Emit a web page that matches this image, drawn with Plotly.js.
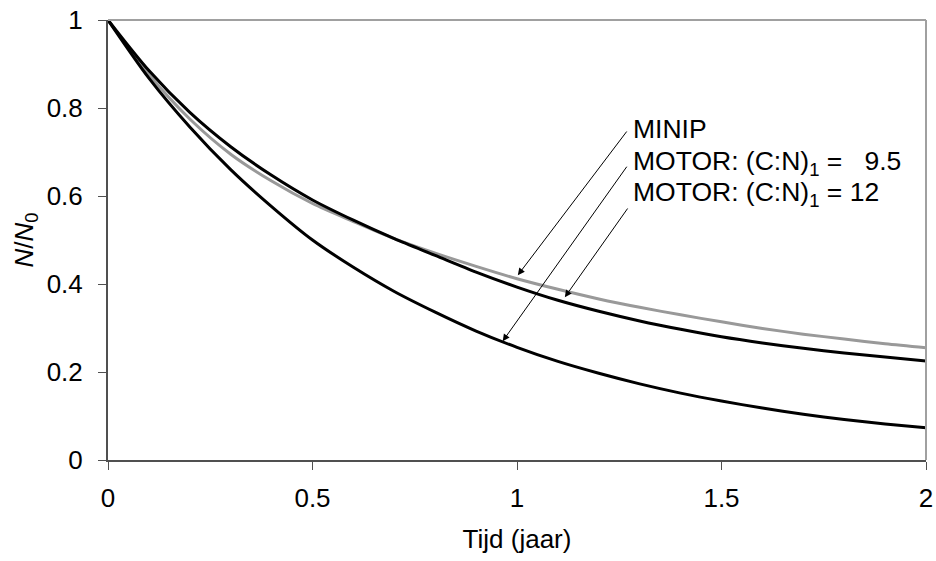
<!DOCTYPE html>
<html>
<head>
<meta charset="utf-8">
<script src="https://cdn.plot.ly/plotly-3.0.1.min.js"></script>
<style>
  html, body { margin: 0; padding: 0; background: #ffffff; }
  #chart { width: 936px; height: 561px; }
</style>
</head>
<body>
<div id="chart"></div>
<script>
// Time axis (years)
const tijd = [0, 0.1, 0.2, 0.3, 0.4, 0.5, 0.6, 0.7, 0.8, 0.9, 1.0,
              1.1, 1.2, 1.3, 1.4, 1.5, 1.6, 1.7, 1.8, 1.9, 2.0];

// Relative nitrogen remaining, N/N0
const minip   = [1.000, 0.876, 0.775, 0.695, 0.634, 0.583, 0.542, 0.503, 0.470, 0.440, 0.412,
                 0.388, 0.366, 0.347, 0.330, 0.314, 0.299, 0.286, 0.275, 0.264, 0.255];
const motor95 = [1.000, 0.868, 0.757, 0.660, 0.576, 0.500, 0.438, 0.383, 0.336, 0.293, 0.256,
                 0.224, 0.197, 0.173, 0.152, 0.134, 0.118, 0.104, 0.092, 0.082, 0.073];
const motor12 = [1.000, 0.885, 0.790, 0.712, 0.647, 0.591, 0.545, 0.503, 0.465, 0.427, 0.393,
                 0.363, 0.338, 0.316, 0.297, 0.280, 0.266, 0.254, 0.243, 0.234, 0.225];

// Curve labels
const labels = ['MINIP',
                'MOTOR: (C:N)<sub>1</sub> =\u00a0\u00a0\u00a09.5',
                'MOTOR: (C:N)<sub>1</sub> = 12'];

// Tick values / labels
const xTicks = [0, 0.5, 1, 1.5, 2];
const xTickText = ['0', '0.5', '1', '1.5', '2'];
const yTicks = [0, 0.2, 0.4, 0.6, 0.8, 1];
const yTickText = ['0', '0.2', '0.4', '0.6', '0.8', '1'];

const FONT = 'Arial, "Liberation Sans", sans-serif';
const FS = 26;

const traces = [
  { x: tijd, y: minip,   name: 'MINIP', mode: 'lines',
    line: { color: '#999999', width: 3, shape: 'spline', smoothing: 0.8 } },
  { x: tijd, y: motor95, name: 'MOTOR 9.5', mode: 'lines',
    line: { color: '#000000', width: 3, shape: 'spline', smoothing: 0.8 } },
  { x: tijd, y: motor12, name: 'MOTOR 12', mode: 'lines',
    line: { color: '#000000', width: 3, shape: 'spline', smoothing: 0.8 } }
];

// Arrow from each label towards its curve
function arrow(tailX, tailY, tipX, tipY) {
  return { x: tipX, y: tipY, ax: tailX, ay: tailY, xref: 'x', yref: 'y',
           axref: 'x', ayref: 'y', text: '', showarrow: true,
           arrowhead: 2, arrowsize: 1.4, arrowwidth: 1, arrowcolor: '#000000',
           standoff: 0, startstandoff: 0 };
}
function label(txt, x, y) {
  return { x: x, y: y, xref: 'x', yref: 'y', text: txt, showarrow: false,
           xanchor: 'left', yanchor: 'middle',
           font: { family: FONT, size: 26.5, color: '#000000' } };
}

const layout = {
  width: 936, height: 561,
  margin: { l: 108, r: 10, t: 20, b: 101 },
  paper_bgcolor: '#ffffff', plot_bgcolor: '#ffffff',
  showlegend: false,
  font: { family: FONT, size: FS, color: '#000000' },
  xaxis: {
    range: [0, 2], tickvals: xTicks, ticktext: xTickText,
    showgrid: false, zeroline: false,
    showline: true, linecolor: '#505050', linewidth: 2,
    ticks: 'outside', ticklen: 8, tickwidth: 1, tickcolor: '#505050',
    tickfont: { family: FONT, size: FS, color: '#000000' },
    ticklabelstandoff: 6,
    title: { text: 'Tijd (jaar)', font: { family: FONT, size: FS, color: '#000000' }, standoff: 18 }
  },
  yaxis: {
    range: [0, 1], tickvals: yTicks, ticktext: yTickText,
    showgrid: false, zeroline: false,
    showline: true, linecolor: '#505050', linewidth: 2,
    ticks: 'outside', ticklen: 8, tickwidth: 1, tickcolor: '#505050',
    tickfont: { family: FONT, size: FS, color: '#000000' },
    ticklabelstandoff: 10,
    title: { text: '<i>N</i>/<i>N</i><sub>0</sub>', font: { family: FONT, size: FS, color: '#000000' }, standoff: 6 }
  },
  shapes: [
    { type: 'line', xref: 'paper', yref: 'paper', x0: 0, x1: 1, y0: 1, y1: 1,
      line: { color: '#a0a0a0', width: 2 } },
    { type: 'line', xref: 'paper', yref: 'paper', x0: 1, x1: 1, y0: 0, y1: 1,
      line: { color: '#a0a0a0', width: 2 } }
  ],
  annotations: [
    arrow(1.271, 0.750, 1.002, 0.420),
    arrow(1.271, 0.670, 0.965, 0.270),
    arrow(1.273, 0.575, 1.117, 0.370),
    label(labels[0], 1.279, 0.752),
    label(labels[1], 1.279, 0.676),
    label(labels[2], 1.279, 0.604)
  ]
};

Plotly.newPlot('chart', traces, layout, { displayModeBar: false, staticPlot: true });
</script>
</body>
</html>
